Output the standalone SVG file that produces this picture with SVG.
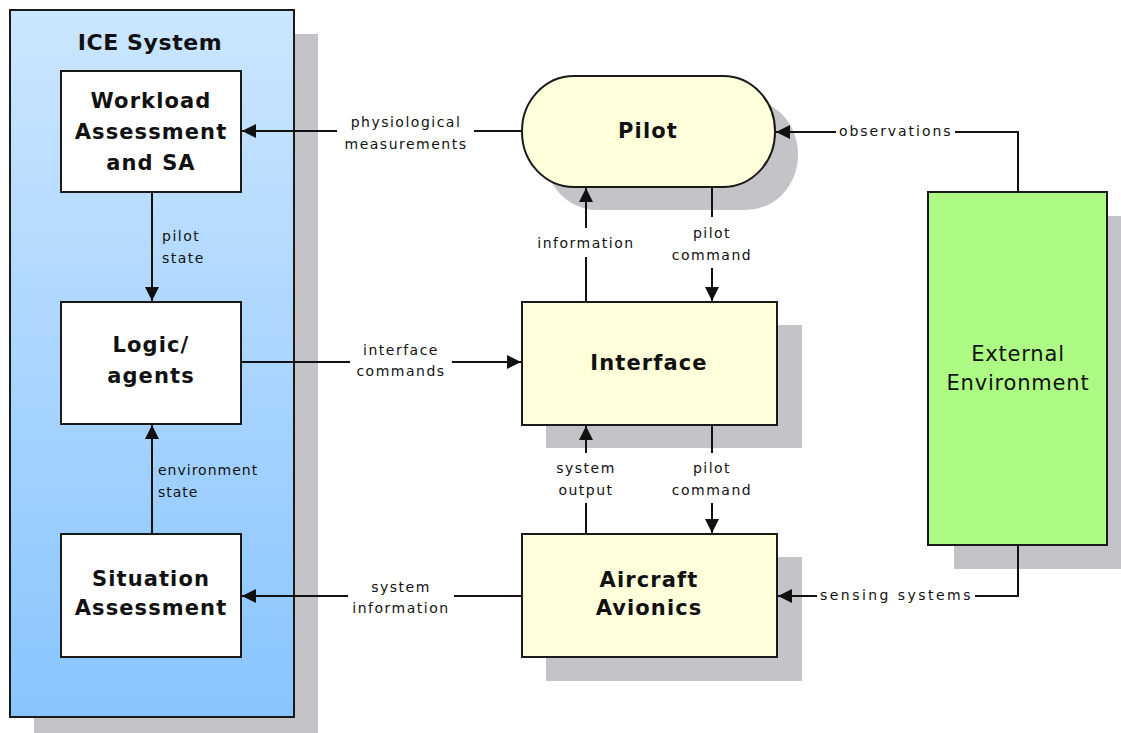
<svg xmlns="http://www.w3.org/2000/svg" width="1121" height="733" viewBox="0 0 1121 733">
<defs>
<linearGradient id="ice" x1="0" y1="0" x2="0" y2="1">
<stop offset="0" stop-color="#cbe6ff"/>
<stop offset="1" stop-color="#88c4ff"/>
</linearGradient>
<marker id="arr" markerUnits="userSpaceOnUse" markerWidth="15" markerHeight="16" refX="14" refY="8" orient="auto">
<path d="M0,1 L14,8 L0,15 Z" fill="#111"/>
</marker>
<style>
.shadow{fill:#c4c3c7;stroke:none}
.box{stroke:#1a1a1a;stroke-width:2}
.white{fill:#ffffff}
.yellow{fill:#ffffdc}
.green{fill:#adfb85}
.title{font-family:"DejaVu Sans",sans-serif;font-weight:bold;font-size:21px;letter-spacing:1.1px;fill:#111;text-anchor:middle}
.lbl{font-family:"DejaVu Sans",sans-serif;font-size:14px;letter-spacing:1.5px;fill:#111}
.mid{text-anchor:middle}
.line{stroke:#111;stroke-width:2;fill:none}
.env{font-family:"DejaVu Sans",sans-serif;font-size:21px;letter-spacing:0.8px;fill:#111;text-anchor:middle}
</style>
</defs>
<rect width="1121" height="733" fill="#ffffff"/>

<g id="ice-system">
<rect class="shadow" x="34" y="34" width="284" height="707"/>
<rect class="box" x="10" y="10" width="284" height="707" fill="url(#ice)"/>
<text class="title" x="150" y="50" style="font-size:22px;letter-spacing:0.6px">ICE System</text>
</g>

<g id="workload">
<rect class="box white" x="61" y="71" width="180" height="121"/>
<text class="title" x="151" y="108">Workload</text>
<text class="title" x="151" y="139">Assessment</text>
<text class="title" x="151" y="170">and SA</text>
</g>

<g id="logic">
<rect class="box white" x="61" y="302" width="180" height="122"/>
<text class="title" x="151" y="352">Logic/</text>
<text class="title" x="151" y="383">agents</text>
</g>

<g id="situation">
<rect class="box white" x="61" y="534" width="180" height="123"/>
<text class="title" x="151" y="586">Situation</text>
<text class="title" x="151" y="615">Assessment</text>
</g>

<g id="pilot">
<rect class="shadow" x="545" y="99" width="253" height="111" rx="52" ry="55"/>
<rect class="box yellow" x="522" y="76" width="253" height="111" rx="52" ry="55"/>
<text class="title" x="648" y="138">Pilot</text>
</g>

<g id="interface">
<rect class="shadow" x="546" y="325" width="256" height="123"/>
<rect class="box yellow" x="522" y="302" width="255" height="123"/>
<text class="title" x="649" y="370">Interface</text>
</g>

<g id="avionics">
<rect class="shadow" x="546" y="557" width="256" height="124"/>
<rect class="box yellow" x="522" y="534" width="255" height="123"/>
<text class="title" x="649" y="587">Aircraft</text>
<text class="title" x="649" y="615">Avionics</text>
</g>

<g id="external">
<rect class="shadow" x="954" y="216" width="179" height="353"/>
<rect class="box green" x="928" y="192" width="179" height="353"/>
<text class="env" x="1018" y="361">External</text>
<text class="env" x="1018" y="390">Environment</text>
</g>

<g id="connectors">
<!-- pilot state -->
<line class="line" x1="152" y1="192" x2="152" y2="301" marker-end="url(#arr)"/>
<text class="lbl" x="162" y="241">pilot</text>
<text class="lbl" x="162" y="263">state</text>
<!-- environment state -->
<line class="line" x1="152" y1="534" x2="152" y2="425" marker-end="url(#arr)"/>
<text class="lbl" x="158" y="475" style="letter-spacing:1px">environment</text>
<text class="lbl" x="158" y="497" style="letter-spacing:1px">state</text>
<!-- physiological measurements -->
<line class="line" x1="521" y1="131" x2="474" y2="131"/>
<line class="line" x1="337" y1="131" x2="242" y2="131" marker-end="url(#arr)"/>
<text class="lbl mid" x="406" y="127">physiological</text>
<text class="lbl mid" x="406" y="149">measurements</text>
<!-- interface commands -->
<line class="line" x1="241" y1="362" x2="350" y2="362"/>
<line class="line" x1="452" y1="362" x2="521" y2="362" marker-end="url(#arr)"/>
<text class="lbl mid" x="401" y="355">interface</text>
<text class="lbl mid" x="401" y="376">commands</text>
<!-- system information -->
<line class="line" x1="522" y1="596" x2="454" y2="596"/>
<line class="line" x1="348" y1="596" x2="242" y2="596" marker-end="url(#arr)"/>
<text class="lbl mid" x="401" y="592">system</text>
<text class="lbl mid" x="401" y="613">information</text>
<!-- information -->
<line class="line" x1="586" y1="302" x2="586" y2="257"/>
<line class="line" x1="586" y1="228" x2="586" y2="188" marker-end="url(#arr)"/>
<text class="lbl mid" x="586" y="248">information</text>
<!-- pilot command upper -->
<line class="line" x1="712" y1="187" x2="712" y2="217"/>
<line class="line" x1="712" y1="268" x2="712" y2="301" marker-end="url(#arr)"/>
<text class="lbl mid" x="712" y="238">pilot</text>
<text class="lbl mid" x="712" y="260">command</text>
<!-- system output -->
<line class="line" x1="586" y1="534" x2="586" y2="503"/>
<line class="line" x1="586" y1="453" x2="586" y2="426" marker-end="url(#arr)"/>
<text class="lbl mid" x="586" y="473">system</text>
<text class="lbl mid" x="586" y="495">output</text>
<!-- pilot command lower -->
<line class="line" x1="712" y1="425" x2="712" y2="453"/>
<line class="line" x1="712" y1="503" x2="712" y2="533" marker-end="url(#arr)"/>
<text class="lbl mid" x="712" y="473">pilot</text>
<text class="lbl mid" x="712" y="495">command</text>
<!-- observations -->
<polyline class="line" points="1018,192 1018,132 955,132"/>
<line class="line" x1="836" y1="132" x2="776" y2="132" marker-end="url(#arr)"/>
<text class="lbl" x="839" y="136" textLength="113" lengthAdjust="spacing">observations</text>
<!-- sensing systems -->
<polyline class="line" points="1018,545 1018,596 975,596"/>
<line class="line" x1="817" y1="596" x2="778" y2="596" marker-end="url(#arr)"/>
<text class="lbl" x="820" y="600" textLength="152" lengthAdjust="spacing">sensing systems</text>
</g>
</svg>
